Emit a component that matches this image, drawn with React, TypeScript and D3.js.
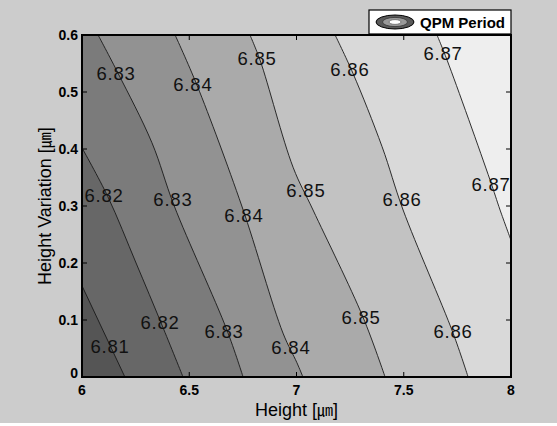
import React from "react";
import * as d3 from "d3";

// ---- data ----
const levels = [6.81, 6.82, 6.83, 6.84, 6.85, 6.86, 6.87];
// contour lines (Height, Height Variation) for each level, top/left start -> bottom/right end
const line681: [number, number][] = [[6.0, 0.16], [6.2, 0.0]];
const line682: [number, number][] = [[6.0, 0.402], [6.121, 0.316], [6.252, 0.2], [6.373, 0.091], [6.471, 0.0]];
const line683: [number, number][] = [[6.075, 0.6], [6.168, 0.533], [6.326, 0.411], [6.43, 0.3], [6.676, 0.082], [6.751, 0.0]];
const line684: [number, number][] = [[6.434, 0.6], [6.536, 0.512], [6.745, 0.3], [6.937, 0.077], [7.002, 0.025], [7.03, 0.0]];
const line685: [number, number][] = [[6.783, 0.6], [6.83, 0.556], [6.984, 0.368], [7.077, 0.293], [7.31, 0.105], [7.413, 0.0]];
const line686: [number, number][] = [[7.18, 0.6], [7.263, 0.533], [7.399, 0.404], [7.497, 0.293], [7.73, 0.077], [7.8, 0.0]];
const line687: [number, number][] = [[7.655, 0.6], [7.702, 0.556], [7.902, 0.346], [7.949, 0.293], [8.0, 0.24]];
const contourLines = [line681, line682, line683, line684, line685, line686, line687];

// band fill colours: below 6.81, 6.81-6.82, ..., above 6.87
const bandColors = ["#555555", "#676767", "#7b7b7b", "#929292", "#aaaaaa", "#c2c2c2", "#d9d9d9", "#eeeeee"];

// contour labels
const labelLevels = [6.83, 6.84, 6.85, 6.86, 6.87, 6.82, 6.83, 6.84, 6.85, 6.86, 6.87, 6.82, 6.83, 6.84, 6.85, 6.86, 6.81];
const labelX = [6.159, 6.517, 6.816, 7.249, 7.683, 6.103, 6.424, 6.755, 7.044, 7.492, 7.907, 6.364, 6.662, 6.974, 7.301, 7.73, 6.131];
const labelY = [0.533, 0.514, 0.558, 0.539, 0.568, 0.319, 0.311, 0.284, 0.328, 0.311, 0.337, 0.095, 0.079, 0.051, 0.104, 0.079, 0.053];

const xTicks = [6, 6.5, 7, 7.5, 8];
const xTickLabels = ["6", "6.5", "7", "7.5", "8"];
const yTicks = [0, 0.1, 0.2, 0.3, 0.4, 0.5, 0.6];
const yTickLabels = ["0", "0.1", "0.2", "0.3", "0.4", "0.5", "0.6"];

const xLabel = "Height [";
const yLabel = "Height Variation [";
const unit = "㎛";
const legendLabel = "QPM Period";

export default function App() {
  const W = 557, H = 426;
  const left = 82, right = 511, top = 35, bottom = 377;
  const x = d3.scaleLinear().domain([6, 8]).range([left, right]);
  const y = d3.scaleLinear().domain([0, 0.6]).range([bottom, top]);
  const lineGen = d3.line<[number, number]>().x(d => x(d[0])).y(d => y(d[1])).curve(d3.curveCatmullRom.alpha(0.5));
  const [x0, x1] = x.domain();
  const [y0, y1] = y.domain();

  const regionPath = (pts: [number, number][]) => {
    const start = pts[0];
    const end = pts[pts.length - 1];
    let p = lineGen(pts) || "";
    const corners: [number, number][] = [];
    if (end[1] === y0) corners.push([x1, y0]);
    corners.push([x1, y1]);
    if (start[0] === x0) corners.push([x0, y1]);
    corners.forEach(c => { p += `L${x(c[0])},${y(c[1])}`; });
    return p + "Z";
  };

  const font = "'Liberation Sans', Arial, Helvetica, sans-serif";
  const tickLen = 5;

  return (
    <svg width={W} height={H} style={{ position: "absolute", left: 0, top: 0 }} fontFamily={font}>
      <rect x={0} y={0} width={W} height={H} fill="#ffffff" />
      <rect x={0} y={0} width={W} height={423} fill="#cccccc" />
      <defs>
        <clipPath id="plotclip">
          <rect x={left} y={top} width={right - left} height={bottom - top} />
        </clipPath>
      </defs>
      <g clipPath="url(#plotclip)">
        <rect x={left} y={top} width={right - left} height={bottom - top} fill={bandColors[0]} />
        {contourLines.map((pts, i) => (
          <path key={"f" + i} d={regionPath(pts)} fill={bandColors[i + 1]} stroke="none" />
        ))}
        {contourLines.map((pts, i) => (
          <path key={"l" + i} d={lineGen(pts) || ""} fill="none" stroke="#1a1a1a" strokeWidth={0.9} />
        ))}
        {labelLevels.map((lv, i) => (
          <text key={"t" + i} x={x(labelX[i])} y={y(labelY[i])} textAnchor="middle" dominantBaseline="central"
            fontSize={18.5} letterSpacing={0.8} fill="#111">{lv.toFixed(2)}</text>
        ))}
      </g>
      {/* ticks */}
      {xTicks.map((t, i) => (
        <g key={"xt" + i}>
          <line x1={x(t)} x2={x(t)} y1={bottom} y2={bottom - tickLen} stroke="#000" />
          <line x1={x(t)} x2={x(t)} y1={top} y2={top + tickLen} stroke="#000" />
          <text x={x(t)} y={bottom + 18} textAnchor="middle" fontSize={14} fontWeight="bold">{xTickLabels[i]}</text>
        </g>
      ))}
      {yTicks.map((t, i) => (
        <g key={"yt" + i}>
          <line x1={left} x2={left + tickLen} y1={y(t)} y2={y(t)} stroke="#000" />
          <line x1={right} x2={right - tickLen} y1={y(t)} y2={y(t)} stroke="#000" />
          <text x={left - 4} y={y(t) - (i === 0 ? 4 : 0)} textAnchor="end" dominantBaseline="central" fontSize={14} fontWeight="bold">{yTickLabels[i]}</text>
        </g>
      ))}
      <rect x={left} y={top} width={right - left} height={bottom - top} fill="none" stroke="#000" strokeWidth={2} />
      {/* axis labels */}
      <text x={(left + right) / 2} y={416} textAnchor="middle" fontSize={18}>
        {xLabel}<tspan fontFamily="'Noto Sans CJK KR'" fontSize={16}>{unit}</tspan>]
      </text>
      <text transform={`translate(51,${(top + bottom) / 2}) rotate(-90)`} textAnchor="middle" fontSize={18}>
        {yLabel}<tspan fontFamily="'Noto Sans CJK KR'" fontSize={16}>{unit}</tspan>]
      </text>
      {/* legend */}
      <rect x={369} y={10} width={right - 369} height={24} fill="#ffffff" stroke="#000" strokeWidth={1.2} />
      <ellipse cx={395} cy={22} rx={19} ry={7} fill="#5a5a5a" stroke="#000" strokeWidth={1} />
      <ellipse cx={395} cy={22} rx={12.5} ry={4.6} fill="#9a9a9a" stroke="#333" strokeWidth={0.8} />
      <ellipse cx={395} cy={22} rx={6} ry={2.4} fill="#ffffff" stroke="#666" strokeWidth={0.8} />
      <text x={420} y={28} fontSize={15} fontWeight="bold">{legendLabel}</text>
    </svg>
  );
}
